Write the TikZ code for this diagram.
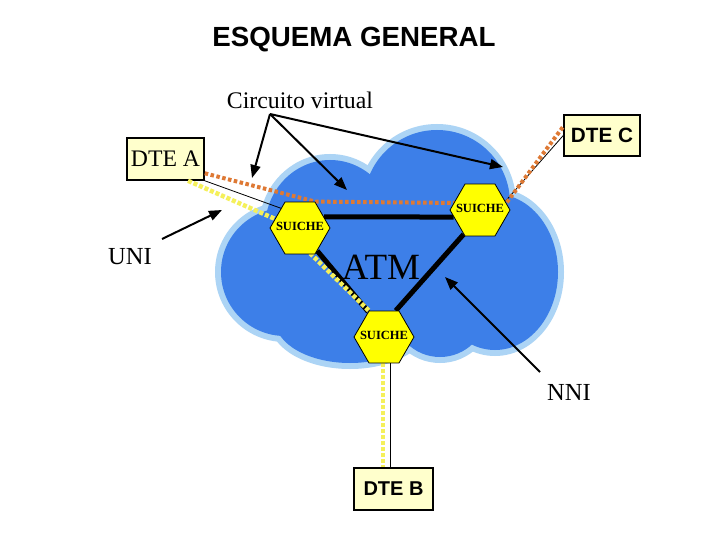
\documentclass[tikz,border=0pt]{standalone}
\usepackage{fontspec}
\setmainfont{Liberation Serif}
\setsansfont{Liberation Sans}
\usetikzlibrary{calc}
\usetikzlibrary{shapes.geometric,arrows.meta}

\definecolor{cloudblue}{RGB}{61,127,232}
\definecolor{cloudrim}{RGB}{172,212,245}
\definecolor{vcorange}{RGB}{222,121,52}
\definecolor{linkyellow}{RGB}{245,240,90}
\definecolor{boxyellow}{RGB}{255,255,204}
\definecolor{hexyellow}{RGB}{255,255,0}

\newcommand{\swtext}{\makebox[0pt]{SUICHE}}

\tikzset{
  hexnode/.style={regular polygon, regular polygon sides=6, minimum size=60pt,
    inner sep=0pt, text height=4pt, text depth=0pt, draw=black, line width=0.8pt,
    fill=hexyellow, font=\bfseries\fontsize{12.5}{14}\selectfont},
  dtebox/.style={draw=black, line width=1.5pt, fill=boxyellow, inner sep=0pt},
  vcline/.style={vcorange, line width=4pt, dash pattern=on 3.5pt off 2.5pt},
  uniline/.style={linkyellow, line width=4.5pt, dash pattern=on 4pt off 2pt},
  thinline/.style={black, line width=0.8pt},
  trunk/.style={black, line width=5pt},
  callout/.style={black, line width=2pt, -{Triangle[length=13pt,width=10pt]}}
}

\begin{document}
\begin{tikzpicture}[x=1pt,y=-1pt]
\useasboundingbox (0,0) rectangle (720,540);
\fill[white] (0,0) rectangle (720,540);

% nube ATM
\foreach \cx/\cy/\rx/\ry in {285/272/64/64, 330/228/65/68, 437/203/73/73, 495/272/63/78,
                             440/310/47/47, 350/320/75/43, 390/262/100/80}
  \draw[cloudrim, line width=12pt] (\cx,\cy) ellipse [x radius=\rx pt, y radius=\ry pt];
\foreach \cx/\cy/\rx/\ry in {285/272/64/64, 330/228/65/68, 437/203/73/73, 495/272/63/78,
                             440/310/47/47, 350/320/75/43, 390/262/100/80}
  \fill[cloudblue] (\cx,\cy) ellipse [x radius=\rx pt, y radius=\ry pt];

% textos
\node (title) at (354,40) {\sffamily\bfseries\fontsize{27.7}{32}\selectfont ESQUEMA GENERAL};
\node (cv) at (300,100) {\fontsize{23.8}{28}\selectfont Circuito virtual};
\node (uni) at (130,257) {\fontsize{24.5}{28}\selectfont UNI};
\node (nni) at (569,392) {\fontsize{24.5}{28}\selectfont NNI};
\node (atm) at (381,267) {\fontsize{37}{40}\selectfont ATM};

% equipos terminales
\node[dtebox, minimum width=77pt, minimum height=42pt] (dteA) at (165.5,159)
  {\fontsize{23.7}{28}\selectfont DTE A};
\node[dtebox, minimum width=76pt, minimum height=41pt] (dteC) at (602,135.5)
  {\sffamily\bfseries\fontsize{20.7}{24}\selectfont DTE C};
\node[dtebox, minimum width=79pt, minimum height=42pt] (dteB) at (393.5,489)
  {\sffamily\bfseries\fontsize{20}{24}\selectfont DTE B};

% suiches (solo para anclas, se dibujan al final)
\path (300,228) node[hexnode, draw=none, fill=none, text opacity=0] (swA) {\swtext};
\path (480,210) node[hexnode, draw=none, fill=none, text opacity=0] (swC) {\swtext};
\path (384,337) node[hexnode, draw=none, fill=none, text opacity=0] (swB) {\swtext};

% enlaces troncales
\draw[trunk] (swA.25)--(swC.195);
\draw[trunk] (swA.-53)--(swB.122);
\draw[trunk] (swB.66)--(swC.236);

% enlaces UNI
\draw[thinline] (dteA.south east)--(swA.134);
\draw[thinline] (dteC.west)--(swC.19);
\draw[thinline] ([xshift=6pt]swB.south)--([xshift=6pt]swB.south |- dteB.north);

\draw[uniline] (dteA.-44)--(swA.160)--(swB.corner 2);
\draw[uniline] ([xshift=-1pt]swB.south)--([xshift=-1pt]swB.south |- dteB.north);

% circuito virtual
\draw[vcline] (dteA.-20)--(swA.corner 1)--(swC.165)--(swC.15)--(dteC.167);

\node[hexnode] at (swA) {\swtext};
\node[hexnode] at (swC) {\swtext};
\node[hexnode] at (swB) {\swtext};

% flechas
\coordinate (cvsrc) at (270,114);
\coordinate (cvA) at (252,178);
\coordinate (cvB) at (347,190);
\coordinate (cvC) at (503,167);
\draw[callout] (cvsrc)--(cvA);
\draw[callout] (cvsrc)--(cvB);
\draw[callout] (cvsrc)--(cvC);

\coordinate (uniS) at (162,239);
\coordinate (uniE) at (222,210);
\draw[callout] (uniS)--(uniE);

\coordinate (nniS) at (540,372);
\coordinate (nniE) at (445,277);
\draw[callout] (nniS)--(nniE);
\end{tikzpicture}
\end{document}
